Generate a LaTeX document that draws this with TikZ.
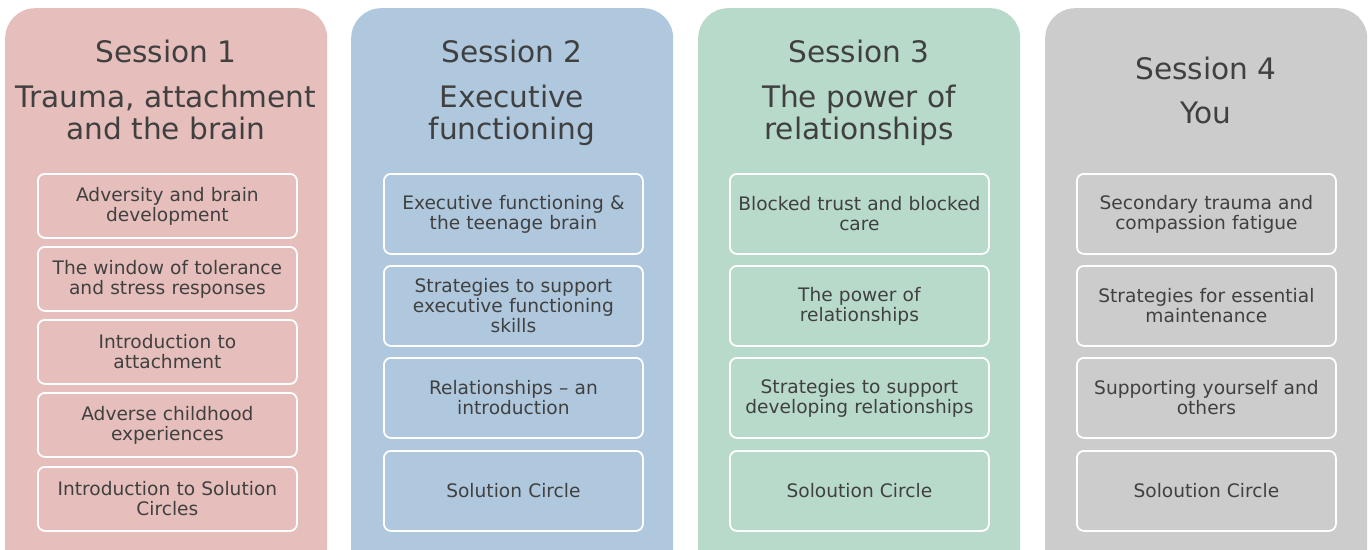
\documentclass[tikz,border=0pt]{standalone}
\usepackage{fontspec}
\setmainfont{DejaVu Sans}
\definecolor{txt}{HTML}{404040}
\definecolor{cA}{HTML}{E6BFBC}
\definecolor{cB}{HTML}{AFC8DE}
\definecolor{cC}{HTML}{B8DACB}
\definecolor{cD}{HTML}{CCCCCC}
\begin{document}
\begin{tikzpicture}[x=1pt,y=-1pt,
  panel/.style={rounded corners=30pt, minimum width=322pt, minimum height=620pt, inner sep=0pt, anchor=north west},
  item/.style={draw=white, line width=1.8pt, rounded corners=7pt, minimum width=259pt, inner sep=0pt, align=center, text width=257pt, font=\fontsize{18.6}{20}\selectfont, text=txt, anchor=north west},
  ttl/.style={font=\fontsize{29.6}{32}\selectfont, text=txt, anchor=base, inner sep=0pt}
]
\useasboundingbox (0,0) rectangle (1371,549);
\clip (0,0) rectangle (1371,549);
\fill[white] (0,0) rectangle (1371,549);

% panels
\node[panel, fill=cA] (p1) at (5,8) {};
\node[panel, fill=cB] (p2) at (351,8) {};
\node[panel, fill=cC] (p3) at (698,8) {};
\node[panel, fill=cD] (p4) at (1045,8) {};

% titles
\node[ttl] (t1a) at (166,62.5) {Session 1};
\node[ttl] (t1b) at (166,107.5) {Trauma, attachment};
\node[ttl] (t1c) at (166,139.5) {and the brain};
\node[ttl] (t2a) at (512,62.5) {Session 2};
\node[ttl] (t2b) at (512,107.5) {Executive};
\node[ttl] (t2c) at (512,139.5) {functioning};
\node[ttl] (t3a) at (859,62.5) {Session 3};
\node[ttl] (t3b) at (859,107.5) {The power of};
\node[ttl] (t3c) at (859,139.5) {relationships};
\node[ttl] (t4a) at (1206,79.5) {Session 4};
\node[ttl] (t4b) at (1206,123.5) {You};

% session 1 items
\node[item, minimum height=64pt] (a1) at (37,173) {Adversity and brain\\development};
\node[item, minimum height=64pt] (a2) at (37,246) {The window of tolerance\\and stress responses};
\node[item, minimum height=64pt] (a3) at (37,319) {Introduction to\\attachment};
\node[item, minimum height=64pt] (a4) at (37,392) {Adverse childhood\\experiences};
\node[item, minimum height=64pt] (a5) at (37,466) {Introduction to Solution\\Circles};

% session 2 items
\node[item, minimum height=80pt] (b1) at (383,173) {Executive functioning \&\\the teenage brain};
\node[item, minimum height=80pt] (b2) at (383,265) {Strategies to support\\executive functioning\\skills};
\node[item, minimum height=80pt] (b3) at (383,357) {Relationships -- an\\introduction};
\node[item, minimum height=80pt] (b4) at (383,450) {Solution Circle};

% session 3 items
\node[item, minimum height=80pt] (c1) at (729,173) {Blocked trust and blocked\\care};
\node[item, minimum height=80pt] (c2) at (729,265) {The power of\\relationships};
\node[item, minimum height=80pt] (c3) at (729,357) {Strategies to support\\developing relationships};
\node[item, minimum height=80pt] (c4) at (729,450) {Soloution Circle};

% session 4 items
\node[item, minimum height=80pt] (d1) at (1076,173) {Secondary trauma and\\compassion fatigue};
\node[item, minimum height=80pt] (d2) at (1076,265) {Strategies for essential\\maintenance};
\node[item, minimum height=80pt] (d3) at (1076,357) {Supporting yourself and\\others};
\node[item, minimum height=80pt] (d4) at (1076,450) {Soloution Circle};
\end{tikzpicture}
\end{document}
